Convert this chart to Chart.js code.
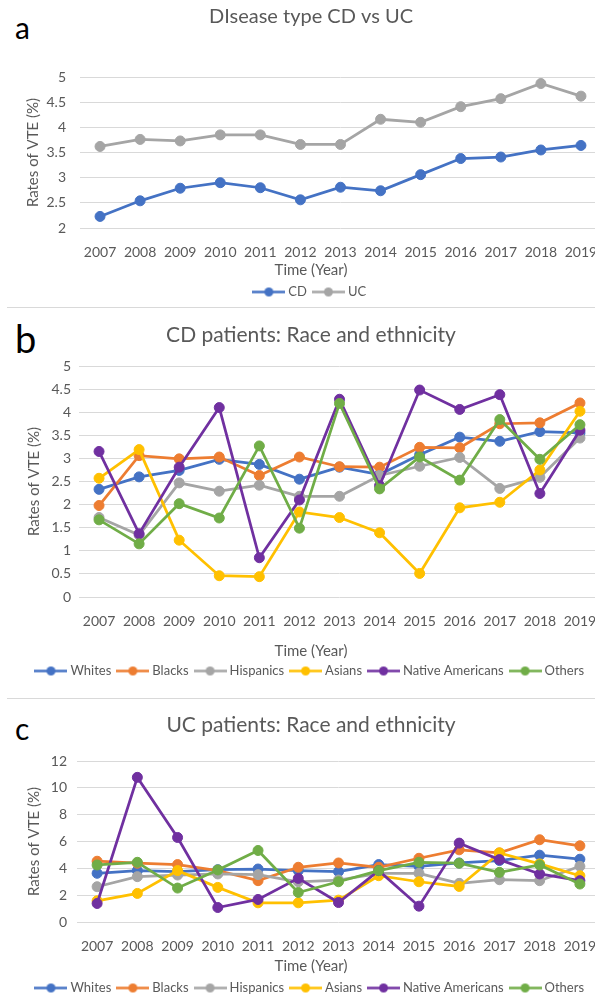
<!DOCTYPE html>
<html>
<head>
<meta charset="utf-8">
<script src="https://cdn.jsdelivr.net/npm/chart.js@4/dist/chart.umd.min.js"></script>
<style>
    html, body {
        margin: 0;
        padding: 0;
        background: #fff;
        width: 595px;
        height: 997px;
        overflow: hidden;
        position: relative;
    }
    canvas {
        position: absolute;
        left: 0;
    }
    .letter {
        position: absolute;
        left: 15px;
        font-family: Lato, sans-serif;
        color: #000;
        white-space: nowrap;
    }
    .sep {
        position: absolute;
        left: 7px;
        width: 588px;
        height: 1px;
        background: #d9d9d9;
    }
</style>
</head>
<body>
<div class="letter" style="top:12px;font-size:30px;line-height:30px">a</div>
<div class="letter" style="top:319px;font-size:38px;line-height:38px">b</div>
<div class="letter" style="top:713px;font-size:30px;line-height:30px">c</div>
<div class="sep" style="top:307px"></div>
<div class="sep" style="top:698px"></div>
<canvas id="chart-a" width="610" height="310" style="top:0"></canvas>
<canvas id="chart-b" width="610" height="391" style="top:307px"></canvas>
<canvas id="chart-c" width="610" height="310" style="top:698px"></canvas>

<script>
// Data
const years = ['2007', '2008', '2009', '2010', '2011', '2012', '2013', '2014', '2015', '2016', '2017', '2018', '2019'];

// Panel a: disease type
const cdRates = [2.23, 2.54, 2.79, 2.90, 2.80, 2.56, 2.81, 2.74, 3.06, 3.38, 3.41, 3.55, 3.64];
const ucRates = [3.62, 3.76, 3.73, 3.85, 3.85, 3.66, 3.66, 4.16, 4.10, 4.41, 4.57, 4.87, 4.62];

// Panel b: CD patients by race
const raceNames = ['Whites', 'Blacks', 'Hispanics', 'Asians', 'Native Americans', 'Others'];
const cdWhites    = [2.33, 2.60, 2.74, 2.98, 2.87, 2.55, 2.81, 2.65, 3.08, 3.46, 3.37, 3.58, 3.55];
const cdBlacks    = [1.98, 3.06, 2.99, 3.03, 2.63, 3.03, 2.82, 2.81, 3.24, 3.23, 3.75, 3.77, 4.20];
const cdHispanics = [1.72, 1.34, 2.47, 2.29, 2.42, 2.18, 2.18, 2.63, 2.83, 3.02, 2.35, 2.59, 3.44];
const cdAsians    = [2.57, 3.19, 1.23, 0.46, 0.44, 1.84, 1.72, 1.39, 0.51, 1.93, 2.05, 2.75, 4.02];
const cdNative    = [3.15, 1.37, 2.81, 4.10, 0.85, 2.10, 4.28, 2.41, 4.48, 4.06, 4.38, 2.24, 3.61];
const cdOthers    = [1.67, 1.15, 2.02, 1.71, 3.27, 1.49, 4.19, 2.34, 3.03, 2.53, 3.84, 2.98, 3.73];

// Panel c: UC patients by race
const ucWhites    = [3.63, 3.83, 3.75, 3.90, 3.95, 3.83, 3.75, 4.28, 4.15, 4.40, 4.58, 4.98, 4.68];
const ucBlacks    = [4.53, 4.38, 4.28, 3.83, 3.08, 4.08, 4.40, 4.08, 4.75, 5.38, 5.15, 6.13, 5.68];
const ucHispanics = [2.63, 3.38, 3.50, 3.58, 3.53, 3.00, 3.13, 3.63, 3.63, 2.88, 3.15, 3.08, 4.15];
const ucAsians    = [1.58, 2.13, 3.83, 2.58, 1.43, 1.43, 1.63, 3.45, 3.00, 2.65, 5.15, 4.33, 3.45];
const ucNative    = [1.38, 10.78, 6.30, 1.08, 1.68, 3.25, 1.45, 3.83, 1.18, 5.88, 4.65, 3.58, 3.08];
const ucOthers    = [4.25, 4.45, 2.53, 3.88, 5.33, 2.20, 3.00, 3.83, 4.45, 4.38, 3.70, 4.25, 2.83];

// Styles
const raceColors = ['#4472C4', '#ED7D31', '#A5A5A5', '#FFC000', '#7030A0', '#70AD47'];
const FONT = 'Lato, sans-serif';
const TEXT_COLOR = '#595959';
const GRID_COLOR = '#d9d9d9';

// Legend marker: short line with a dot in the middle
function legendMarker(color) {
    const c = document.createElement('canvas');
    c.width = 33;
    c.height = 11;
    const ctx = c.getContext('2d');
    ctx.strokeStyle = color;
    ctx.lineWidth = 2.5;
    ctx.beginPath();
    ctx.moveTo(0, 5.5);
    ctx.lineTo(33, 5.5);
    ctx.stroke();
    ctx.fillStyle = color;
    ctx.beginPath();
    ctx.arc(16.5, 5.5, 4.5, 0, Math.PI * 2);
    ctx.fill();
    return c;
}

function makeDataset(label, data, color, index, count) {
    return {
        label: label,
        data: data,
        borderColor: color,
        backgroundColor: color,
        borderWidth: 2.75,
        pointRadius: 5,
        pointHoverRadius: 5,
        pointBorderWidth: 1,
        tension: 0,
        // later series are drawn on top, like the original
        order: count - index
    };
}

function makeChart(id, cfg) {
    const markers = cfg.datasets.map(ds => legendMarker(ds.borderColor));
    return new Chart(document.getElementById(id).getContext('2d'), {
        type: 'line',
        data: {
            labels: years,
            datasets: cfg.datasets
        },
        options: {
            responsive: false,
            animation: false,
            devicePixelRatio: 1,
            layout: {
                padding: { left: cfg.padLeft, right: cfg.padRight, top: 0, bottom: cfg.padBottom }
            },
            plugins: {
                title: {
                    display: true,
                    text: cfg.title,
                    color: TEXT_COLOR,
                    font: { family: FONT, size: cfg.titleSize, weight: 'normal' },
                    padding: { top: cfg.titleTop, bottom: cfg.titleBottom }
                },
                legend: {
                    position: 'bottom',
                    title: {
                        display: true,
                        text: 'Time (Year)',
                        color: TEXT_COLOR,
                        font: { family: FONT, size: 15, weight: 'normal' },
                        padding: { top: cfg.legendTitleTop, bottom: cfg.legendTitleBottom }
                    },
                    labels: {
                        usePointStyle: true,
                        pointStyleWidth: 26,
                        padding: 8.5,
                        color: TEXT_COLOR,
                        font: { family: FONT, size: 13 },
                        sort: (a, b) => a.datasetIndex - b.datasetIndex,
                        generateLabels: chart => {
                            const items = Chart.defaults.plugins.legend.labels.generateLabels(chart);
                            items.forEach(it => { it.pointStyle = markers[it.datasetIndex]; });
                            return items;
                        }
                    }
                },
                tooltip: { enabled: false }
            },
            scales: {
                x: {
                    offset: true,
                    grid: { display: false },
                    border: { display: false },
                    ticks: {
                        color: TEXT_COLOR,
                        font: { family: FONT, size: 14 },
                        padding: 8,
                        maxRotation: 0,
                        autoSkip: false
                    },
                    afterFit: scale => { scale.height = 30; }
                },
                y: {
                    min: cfg.yMin,
                    max: cfg.yMax,
                    grid: { color: GRID_COLOR, drawTicks: false },
                    border: { display: false },
                    ticks: {
                        stepSize: cfg.yStep,
                        color: TEXT_COLOR,
                        font: { family: FONT, size: 14 },
                        padding: cfg.yTickPad,
                        callback: value => String(value)
                    },
                    title: {
                        display: true,
                        text: 'Rates of VTE (%)',
                        color: TEXT_COLOR,
                        font: { family: FONT, size: 15, weight: 'normal' },
                        padding: { top: 3, bottom: 0 }
                    },
                    afterFit: scale => { scale.width = cfg.yWidth; }
                }
            }
        }
    });
}

// Panel a
makeChart('chart-a', {
    title: 'DIsease type CD vs UC',
    titleSize: 20,
    datasets: [
        makeDataset('CD', cdRates, '#4472C4', 0, 2),
        makeDataset('UC', ucRates, '#A5A5A5', 1, 2)
    ],
    yMin: 2, yMax: 5, yStep: 0.5, yTickPad: 14, yWidth: 59,
    padLeft: 21, padRight: 9, padBottom: 1.5,
    titleTop: 5, titleBottom: 48,
    legendTitleTop: 4.5, legendTitleBottom: -3.5
});

// Panel b
const cdSeries = [cdWhites, cdBlacks, cdHispanics, cdAsians, cdNative, cdOthers];
makeChart('chart-b', {
    title: 'CD patients: Race and ethnicity',
    titleSize: 21,
    datasets: cdSeries.map((d, i) => makeDataset(raceNames[i], d, raceColors[i], i, cdSeries.length)),
    yMin: 0, yMax: 5, yStep: 0.5, yTickPad: 8, yWidth: 57,
    padLeft: 22, padRight: 10, padBottom: 10.5,
    titleTop: 15.4, titleBottom: 18.4,
    legendTitleTop: 16.5, legendTitleBottom: -5.5
});

// Panel c
const ucSeries = [ucWhites, ucBlacks, ucHispanics, ucAsians, ucNative, ucOthers];
makeChart('chart-c', {
    title: 'UC patients: Race and ethnicity',
    titleSize: 21,
    datasets: ucSeries.map((d, i) => makeDataset(raceNames[i], d, raceColors[i], i, ucSeries.length)),
    yMin: 0, yMax: 12, yStep: 2, yTickPad: 10, yWidth: 55,
    padLeft: 22, padRight: 10, padBottom: 3.5,
    titleTop: 14.4, titleBottom: 23.4,
    legendTitleTop: 6.5, legendTitleBottom: -3.5
});
</script>
</body>
</html>
